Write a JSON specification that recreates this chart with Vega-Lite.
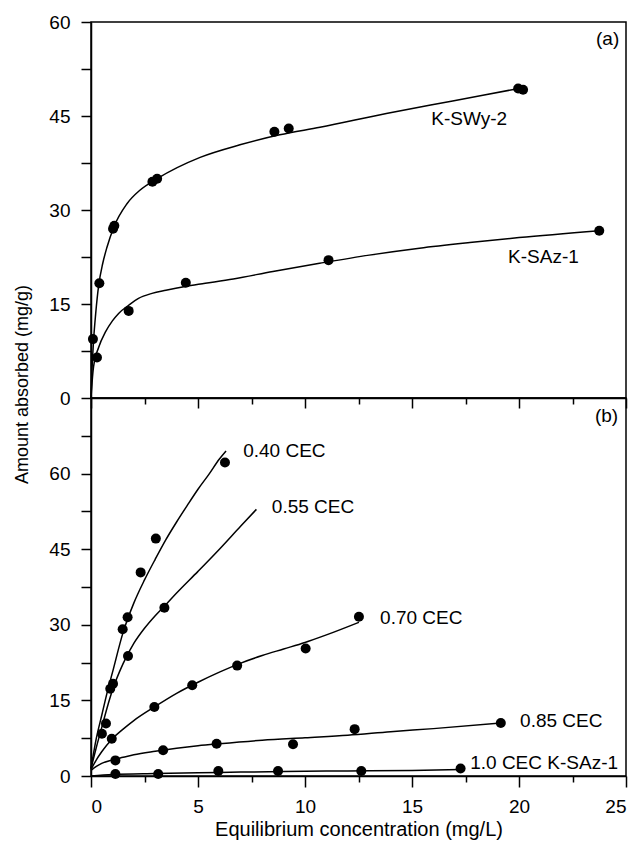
{
  "$schema": "https://vega.github.io/schema/vega-lite/v6.json",
  "padding": {"left": 12, "top": 12, "right": 10, "bottom": 5},
  "spacing": 0,
  "bounds": "flush",
  "config": {
    "font": "Liberation Sans",
    "view": {"stroke": "black", "strokeWidth": 1.5},
    "axis": {
      "domainColor": "black", "tickColor": "black", "labelColor": "black", "titleColor": "black",
      "grid": false, "labelFont": "Liberation Sans", "titleFont": "Liberation Sans",
      "labelFontSize": 19, "titleFontSize": 19, "titleFontWeight": "normal",
      "domainWidth": 1.5, "tickWidth": 1.5
    }
  },
  "datasets": {
    "topCurve": [
      {"s": "SWy", "x": 0, "y": 0}, {"s": "SWy", "x": 0.04, "y": 4}, {"s": "SWy", "x": 0.12, "y": 9.2},
      {"s": "SWy", "x": 0.22, "y": 13.5}, {"s": "SWy", "x": 0.36, "y": 18.0}, {"s": "SWy", "x": 0.55, "y": 21.5},
      {"s": "SWy", "x": 0.75, "y": 24.1}, {"s": "SWy", "x": 1.07, "y": 27.3}, {"s": "SWy", "x": 1.68, "y": 31.0},
      {"s": "SWy", "x": 2.3, "y": 33.2}, {"s": "SWy", "x": 3.09, "y": 35.0}, {"s": "SWy", "x": 5.1, "y": 38.4},
      {"s": "SWy", "x": 6.96, "y": 40.4}, {"s": "SWy", "x": 8.82, "y": 42.0}, {"s": "SWy", "x": 10.7, "y": 43.2},
      {"s": "SWy", "x": 13.8, "y": 45.4}, {"s": "SWy", "x": 16.9, "y": 47.4}, {"s": "SWy", "x": 20.0, "y": 49.4},
      {"s": "SAz", "x": 0, "y": 0}, {"s": "SAz", "x": 0.05, "y": 2.5}, {"s": "SAz", "x": 0.12, "y": 5.0},
      {"s": "SAz", "x": 0.36, "y": 8.1}, {"s": "SAz", "x": 0.67, "y": 10.5}, {"s": "SAz", "x": 1.0, "y": 12.3},
      {"s": "SAz", "x": 1.29, "y": 13.5}, {"s": "SAz", "x": 1.76, "y": 14.8}, {"s": "SAz", "x": 2.22, "y": 15.9},
      {"s": "SAz", "x": 2.85, "y": 16.7}, {"s": "SAz", "x": 3.5, "y": 17.2}, {"s": "SAz", "x": 4.4, "y": 17.8},
      {"s": "SAz", "x": 5.34, "y": 18.3}, {"s": "SAz", "x": 6.65, "y": 19.0}, {"s": "SAz", "x": 8.5, "y": 20.2},
      {"s": "SAz", "x": 10.68, "y": 21.5}, {"s": "SAz", "x": 13.0, "y": 22.8}, {"s": "SAz", "x": 15.35, "y": 23.9},
      {"s": "SAz", "x": 17.7, "y": 24.8}, {"s": "SAz", "x": 20.0, "y": 25.6}, {"s": "SAz", "x": 23.75, "y": 26.7}
    ],
    "topPts": [
      {"s": "SWy", "x": 0.09, "y": 9.4}, {"s": "SWy", "x": 0.39, "y": 18.3}, {"s": "SWy", "x": 1.03, "y": 27.0},
      {"s": "SWy", "x": 1.09, "y": 27.5}, {"s": "SWy", "x": 2.87, "y": 34.5}, {"s": "SWy", "x": 3.09, "y": 35.0},
      {"s": "SWy", "x": 8.57, "y": 42.5}, {"s": "SWy", "x": 9.24, "y": 43.0}, {"s": "SWy", "x": 19.96, "y": 49.4},
      {"s": "SWy", "x": 20.19, "y": 49.2},
      {"s": "SAz", "x": 0.28, "y": 6.45}, {"s": "SAz", "x": 1.76, "y": 13.9}, {"s": "SAz", "x": 4.43, "y": 18.4},
      {"s": "SAz", "x": 11.1, "y": 22.0}, {"s": "SAz", "x": 23.75, "y": 26.7}
    ],
    "topLabels": [
      {"x": 23.6, "y": 57.3, "t": "(a)"},
      {"x": 15.9, "y": 44.5, "t": "K-SWy-2"},
      {"x": 19.49, "y": 22.5, "t": "K-SAz-1"}
    ],
    "botCurve": [
      {"s": "0.40", "x": 0, "y": 1.5}, {"s": "0.40", "x": 0.25, "y": 7.5}, {"s": "0.40", "x": 0.5, "y": 12},
      {"s": "0.40", "x": 0.75, "y": 16.5}, {"s": "0.40", "x": 1, "y": 20.5}, {"s": "0.40", "x": 1.5, "y": 28.5},
      {"s": "0.40", "x": 2, "y": 34.3}, {"s": "0.40", "x": 2.5, "y": 38.9}, {"s": "0.40", "x": 3, "y": 43},
      {"s": "0.40", "x": 3.5, "y": 46.9}, {"s": "0.40", "x": 4, "y": 50.4}, {"s": "0.40", "x": 4.5, "y": 53.7},
      {"s": "0.40", "x": 5, "y": 56.9}, {"s": "0.40", "x": 5.5, "y": 59.8}, {"s": "0.40", "x": 6, "y": 62.9},
      {"s": "0.40", "x": 6.31, "y": 64.5},
      {"s": "0.55", "x": 0, "y": 1.5}, {"s": "0.55", "x": 0.25, "y": 5.7}, {"s": "0.55", "x": 0.5, "y": 9.6},
      {"s": "0.55", "x": 0.75, "y": 13.5}, {"s": "0.55", "x": 1, "y": 17}, {"s": "0.55", "x": 1.5, "y": 22.3},
      {"s": "0.55", "x": 2, "y": 26.3}, {"s": "0.55", "x": 2.5, "y": 29.3}, {"s": "0.55", "x": 3, "y": 31.8},
      {"s": "0.55", "x": 3.5, "y": 34}, {"s": "0.55", "x": 4, "y": 36.3}, {"s": "0.55", "x": 5, "y": 40.6},
      {"s": "0.55", "x": 6, "y": 45}, {"s": "0.55", "x": 7, "y": 49.6}, {"s": "0.55", "x": 7.73, "y": 52.9},
      {"s": "0.70", "x": 0, "y": 1.3}, {"s": "0.70", "x": 0.25, "y": 3.2}, {"s": "0.70", "x": 0.5, "y": 4.8},
      {"s": "0.70", "x": 1, "y": 7.4}, {"s": "0.70", "x": 1.5, "y": 9.3}, {"s": "0.70", "x": 2, "y": 11},
      {"s": "0.70", "x": 3, "y": 13.8}, {"s": "0.70", "x": 4, "y": 16.4}, {"s": "0.70", "x": 5, "y": 18.6},
      {"s": "0.70", "x": 6, "y": 20.6}, {"s": "0.70", "x": 7, "y": 22.4}, {"s": "0.70", "x": 8, "y": 23.9},
      {"s": "0.70", "x": 9, "y": 25.2}, {"s": "0.70", "x": 10, "y": 26.5}, {"s": "0.70", "x": 11, "y": 28},
      {"s": "0.70", "x": 12.52, "y": 30.5},
      {"s": "0.85", "x": 0, "y": 1.1}, {"s": "0.85", "x": 0.25, "y": 1.9}, {"s": "0.85", "x": 0.5, "y": 2.5},
      {"s": "0.85", "x": 1, "y": 3.2}, {"s": "0.85", "x": 1.5, "y": 3.7}, {"s": "0.85", "x": 2, "y": 4.2},
      {"s": "0.85", "x": 3, "y": 4.9}, {"s": "0.85", "x": 4, "y": 5.5}, {"s": "0.85", "x": 5, "y": 6},
      {"s": "0.85", "x": 6, "y": 6.4}, {"s": "0.85", "x": 8, "y": 7.1}, {"s": "0.85", "x": 10, "y": 7.6},
      {"s": "0.85", "x": 12, "y": 8.1}, {"s": "0.85", "x": 14, "y": 8.8}, {"s": "0.85", "x": 16, "y": 9.4},
      {"s": "0.85", "x": 19.15, "y": 10.5},
      {"s": "1.0", "x": 0, "y": 0}, {"s": "1.0", "x": 1, "y": 0.3}, {"s": "1.0", "x": 3, "y": 0.5},
      {"s": "1.0", "x": 6, "y": 0.7}, {"s": "1.0", "x": 9, "y": 0.9}, {"s": "1.0", "x": 12, "y": 1.0},
      {"s": "1.0", "x": 15, "y": 1.1}, {"s": "1.0", "x": 17.27, "y": 1.3}
    ],
    "botPts": [
      {"s": "0.40", "x": 0.70, "y": 10.4}, {"s": "0.40", "x": 1.03, "y": 18.3}, {"s": "0.40", "x": 1.48, "y": 29.1},
      {"s": "0.40", "x": 1.71, "y": 31.5}, {"s": "0.40", "x": 2.32, "y": 40.4}, {"s": "0.40", "x": 3.03, "y": 47.1},
      {"s": "0.40", "x": 6.26, "y": 62.2},
      {"s": "0.55", "x": 0.51, "y": 8.4}, {"s": "0.55", "x": 0.90, "y": 17.3}, {"s": "0.55", "x": 1.73, "y": 23.8},
      {"s": "0.55", "x": 3.43, "y": 33.4},
      {"s": "0.70", "x": 0.97, "y": 7.4}, {"s": "0.70", "x": 2.96, "y": 13.7}, {"s": "0.70", "x": 4.73, "y": 18.0},
      {"s": "0.70", "x": 6.83, "y": 21.9}, {"s": "0.70", "x": 10.03, "y": 25.3}, {"s": "0.70", "x": 12.52, "y": 31.6},
      {"s": "0.85", "x": 1.14, "y": 3.1}, {"s": "0.85", "x": 3.37, "y": 5.1}, {"s": "0.85", "x": 5.87, "y": 6.4},
      {"s": "0.85", "x": 9.44, "y": 6.3}, {"s": "0.85", "x": 12.32, "y": 9.3}, {"s": "0.85", "x": 19.15, "y": 10.5},
      {"s": "1.0", "x": 1.14, "y": 0.4}, {"s": "1.0", "x": 3.14, "y": 0.4}, {"s": "1.0", "x": 5.95, "y": 1.0},
      {"s": "1.0", "x": 8.74, "y": 1.0}, {"s": "1.0", "x": 12.63, "y": 1.0}, {"s": "1.0", "x": 17.27, "y": 1.5}
    ],
    "botLabels": [
      {"x": 23.55, "y": 71.5, "t": "(b)"},
      {"x": 7.11, "y": 64.4, "t": "0.40 CEC"},
      {"x": 8.45, "y": 53.3, "t": "0.55 CEC"},
      {"x": 13.51, "y": 31.3, "t": "0.70 CEC"},
      {"x": 20.05, "y": 10.95, "t": "0.85 CEC"},
      {"x": 17.72, "y": 2.5, "t": "1.0 CEC K-SAz-1"}
    ]
  },
  "vconcat": [
    {
      "width": 535,
      "height": 376,
      "resolve": {"axis": {"x": "independent", "y": "independent"}},
      "layer": [
        {
          "data": {"name": "topCurve"},
          "mark": {"type": "line", "color": "black", "strokeWidth": 1.5, "interpolate": "monotone"},
          "encoding": {
            "x": {"field": "x", "type": "quantitative", "scale": {"domain": [0, 25], "nice": false},
                  "axis": {"values": [0, 5, 10, 15, 20, 25], "labels": false, "title": null, "tickSize": 10, "orient": "bottom"}},
            "y": {"field": "y", "type": "quantitative", "scale": {"domain": [0, 60], "nice": false},
                  "axis": {"values": [0, 15, 30, 45, 60], "title": "Amount absorbed (mg/g)", "titleFontSize": 18, "tickSize": 10, "labelPadding": 11,
                           "orient": "left", "titleX": -69, "titleY": 362, "titleAngle": 270, "titleAlign": "center", "titleBaseline": "middle"}},
            "detail": {"field": "s", "type": "nominal"}
          }
        },
        {
          "data": {"name": "topPts"},
          "mark": {"type": "point", "filled": true, "shape": "circle", "color": "black", "size": 100, "opacity": 1},
          "encoding": {
            "x": {"field": "x", "type": "quantitative", "scale": {"domain": [0, 25], "nice": false},
                  "axis": {"values": [2.5, 7.5, 12.5, 17.5, 22.5], "labels": false, "title": null, "tickSize": 6, "domain": false, "orient": "bottom"}},
            "y": {"field": "y", "type": "quantitative", "scale": {"domain": [0, 60], "nice": false},
                  "axis": {"values": [7.5, 22.5, 37.5, 52.5], "labels": false, "title": null, "tickSize": 10, "domain": false, "orient": "left"}}
          }
        },
        {
          "data": {"name": "topLabels"},
          "mark": {"type": "text", "align": "left", "baseline": "middle", "fontSize": 19, "font": "Liberation Sans", "color": "black"},
          "encoding": {
            "x": {"field": "x", "type": "quantitative", "scale": {"domain": [0, 25], "nice": false}, "axis": null},
            "y": {"field": "y", "type": "quantitative", "scale": {"domain": [0, 60], "nice": false}, "axis": null},
            "text": {"field": "t"}
          }
        }
      ]
    },
    {
      "width": 535,
      "height": 378,
      "resolve": {"axis": {"x": "independent", "y": "independent"}},
      "layer": [
        {
          "data": {"name": "botCurve"},
          "mark": {"type": "line", "color": "black", "strokeWidth": 1.5, "interpolate": "monotone"},
          "encoding": {
            "x": {"field": "x", "type": "quantitative", "scale": {"domain": [0, 25], "nice": false},
                  "axis": {"values": [0, 5, 10, 15, 20, 25], "title": "Equilibrium concentration (mg/L)", "tickSize": 11, "labelPadding": 10,
                           "titleFontSize": 20, "titlePadding": 3, "orient": "bottom"}},
            "y": {"field": "y", "type": "quantitative", "scale": {"domain": [0, 75], "nice": false},
                  "axis": {"values": [0, 15, 30, 45, 60], "title": null, "tickSize": 10, "labelPadding": 11, "orient": "left"}},
            "detail": {"field": "s", "type": "nominal"}
          }
        },
        {
          "data": {"name": "botPts"},
          "mark": {"type": "point", "filled": true, "shape": "circle", "color": "black", "size": 100, "opacity": 1},
          "encoding": {
            "x": {"field": "x", "type": "quantitative", "scale": {"domain": [0, 25], "nice": false},
                  "axis": {"values": [2.5, 7.5, 12.5, 17.5, 22.5], "labels": false, "title": null, "tickSize": 6, "domain": false, "orient": "bottom"}},
            "y": {"field": "y", "type": "quantitative", "scale": {"domain": [0, 75], "nice": false},
                  "axis": {"values": [7.5, 22.5, 37.5, 52.5, 67.5], "labels": false, "title": null, "tickSize": 10, "domain": false, "orient": "left"}}
          }
        },
        {
          "data": {"name": "botLabels"},
          "mark": {"type": "text", "align": "left", "baseline": "middle", "fontSize": 19, "font": "Liberation Sans", "color": "black"},
          "encoding": {
            "x": {"field": "x", "type": "quantitative", "scale": {"domain": [0, 25], "nice": false}, "axis": null},
            "y": {"field": "y", "type": "quantitative", "scale": {"domain": [0, 75], "nice": false}, "axis": null},
            "text": {"field": "t"}
          }
        }
      ]
    }
  ]
}
